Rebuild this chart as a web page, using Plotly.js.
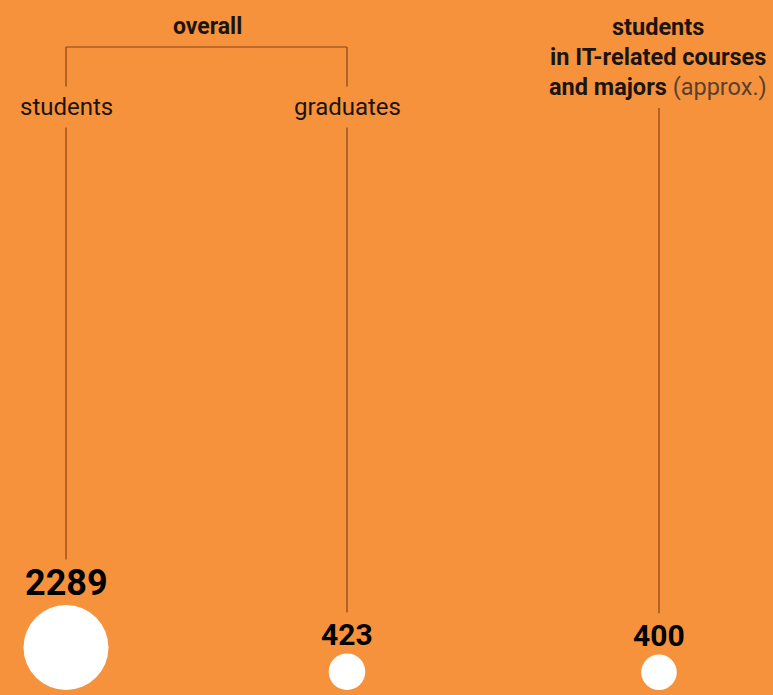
<!DOCTYPE html>
<html>
<head>
<meta charset="utf-8">
<script src="https://cdn.plot.ly/plotly-3.0.1.min.js"></script>
<style>html,body{margin:0;padding:0;background:#F6923B;}#chart{width:773px;height:695px;}</style>
</head>
<body>
<div id="chart"></div>
<script>
// ---- data ----
const categories = ['students', 'graduates', 'students in IT-related courses and majors (approx.)'];
const values = [2289, 423, 400];
const valueLabels = ['2289', '423', '400'];
const groupTitle = 'overall';
const categoryLabels = ['students', 'graduates'];
const sideTitleLines = ['<b>students</b>', '<b>in IT-related courses</b>', '<b>and majors</b> <span style="color:#5a4030">(approx.)</span>'];

// ---- layout constants (pixel frame) ----
const W = 773, H = 695;
const xCenters = [66, 347, 659];
const baseY = 690;           // circles sit on this line
const maxDiam = 85;          // diameter of largest circle
const k = maxDiam / Math.sqrt(Math.max(...values));
const diam = values.map(v => Math.sqrt(v) * k);
const labelSizes = diam.map(d => d > 60 ? 36 : 30);
const BG = '#F6923B', LINE = '#86431a', TXT = '#1c1410';
const FONT = 'Roboto, Arial, sans-serif';

const circleY = diam.map(d => baseY - d / 2);
const circleTop = diam.map(d => baseY - d);
const labelBottom = circleTop.map(t => t + 1);
const lineEnd = circleTop.map((t, i) => t - 10 - labelSizes[i] * 0.71 - 10);

const trace = {
  type: 'scatter', mode: 'markers',
  x: xCenters, y: circleY,
  text: categories,
  hoverinfo: 'text',
  marker: {size: diam, sizemode: 'diameter', color: '#ffffff', opacity: 1, line: {width: 0}}
};

const topY = 47;
const shapes = [
  {type: 'line', x0: xCenters[0], x1: xCenters[1], y0: topY, y1: topY},
  {type: 'line', x0: xCenters[0], x1: xCenters[0], y0: topY, y1: lineEnd[0]},
  {type: 'line', x0: xCenters[1], x1: xCenters[1], y0: topY, y1: lineEnd[1]},
  {type: 'line', x0: xCenters[2], x1: xCenters[2], y0: 108, y1: lineEnd[2]}
].map(s => Object.assign(s, {xref: 'x', yref: 'y', layer: 'below', line: {color: LINE, width: 1.2}}));

const annotations = [];
annotations.push({x: 207, y: 26, text: '<b>' + groupTitle + '</b>',
  font: {size: 23, color: TXT, family: FONT}});
categoryLabels.forEach((c, i) => annotations.push({x: xCenters[i], y: 107, text: c,
  font: {size: 24, color: TXT, family: FONT}, bgcolor: BG, borderpad: 6}));
sideTitleLines.forEach((t, i) => annotations.push({x: 658, y: 27 + i * 30, text: t,
  font: {size: 23.5, color: TXT, family: FONT}}));
valueLabels.forEach((v, i) => annotations.push({x: xCenters[i], y: labelBottom[i], yanchor: 'bottom',
  text: '<b>' + v + '</b>', font: {size: labelSizes[i], color: '#000000', family: FONT}}));
annotations.forEach(a => { a.xref = 'x'; a.yref = 'y'; a.showarrow = false; if (!a.yanchor) a.yanchor = 'middle'; a.xanchor = 'center'; });

const layout = {
  width: W, height: H,
  margin: {l: 0, r: 0, t: 0, b: 0, pad: 0},
  paper_bgcolor: BG, plot_bgcolor: BG,
  showlegend: false,
  xaxis: {range: [0, W], visible: false, fixedrange: true},
  yaxis: {range: [H, 0], visible: false, fixedrange: true},
  shapes: shapes,
  annotations: annotations,
  font: {family: FONT}
};

Plotly.newPlot('chart', [trace], layout, {displayModeBar: false, staticPlot: true});
</script>
</body>
</html>
